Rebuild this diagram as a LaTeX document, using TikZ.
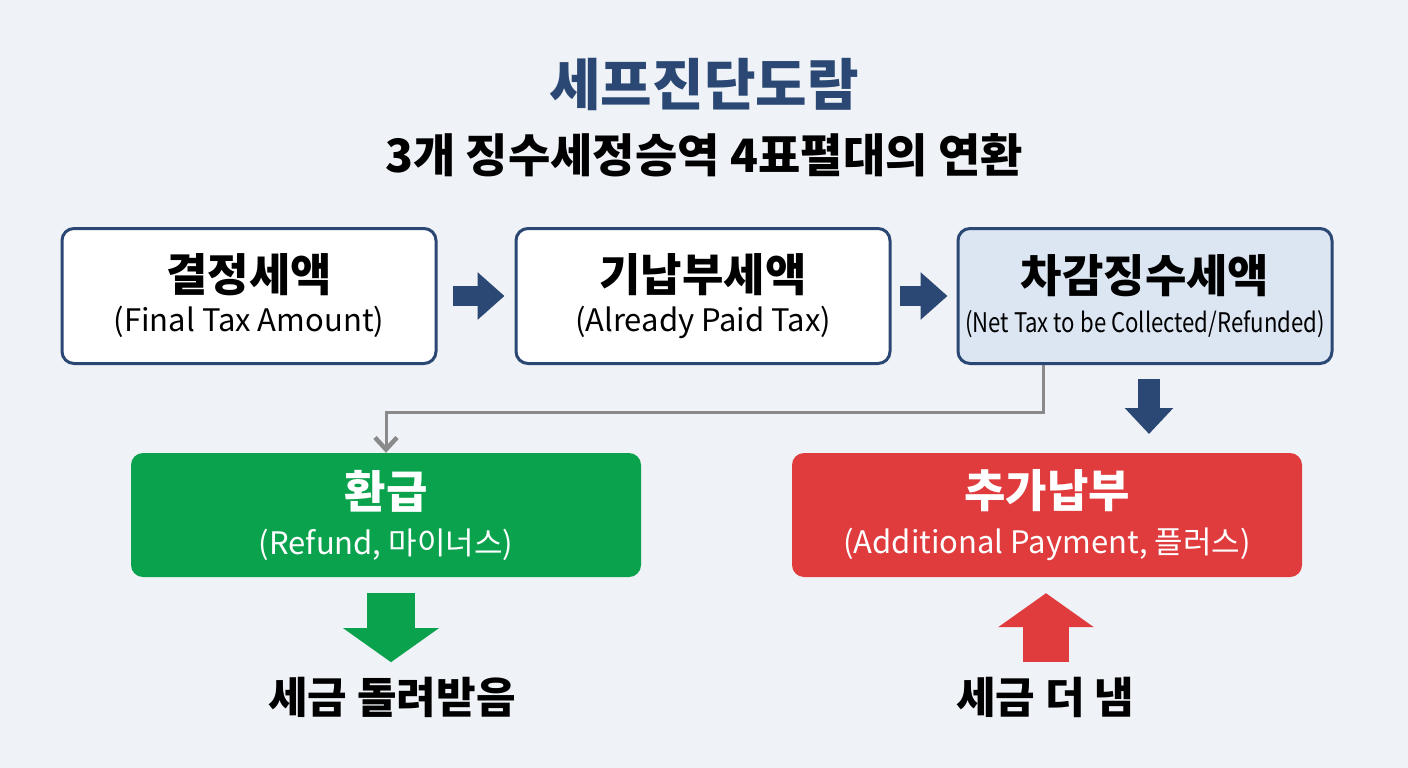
\documentclass[tikz,border=0pt]{standalone}
\usepackage{fontspec}
\setmainfont{Noto Sans CJK KR}
\usepackage{xcolor}
\usepackage{tikz}
\usetikzlibrary{arrows.meta,positioning,calc}
\definecolor{tblue}{HTML}{2B4874}
\definecolor{tpale}{HTML}{DCE5F2}
\definecolor{tback}{HTML}{EFF2F6}
\definecolor{tgreen}{HTML}{0BA24D}
\definecolor{tred}{HTML}{E03B3D}
\definecolor{tgrey}{HTML}{8A8A8A}
\newcommand{\headfont}{\fontsize{45}{48}\selectfont\bfseries}

\begin{document}
\begin{tikzpicture}[x=1pt,y=-1pt,
  every node/.style={font=\fontsize{31}{38}\selectfont,align=center},
  taxbox/.style={draw=tblue,line width=3pt,fill=white,rounded corners=12pt,
    minimum width=374pt,minimum height=135pt,inner sep=0pt},
  resbox/.style={rounded corners=12pt,minimum width=510pt,minimum height=124pt,
    inner sep=0pt,text=white},
  blockarrow/.style={line width=20pt,-{Triangle[length=27pt,width=46pt]}},
  fatarrow/.style={line width=48pt,-{Triangle[length=34pt,width=94pt]}}]
  \fill[tback] (0,0) rectangle (1408,768);
  % title lines
  \node[font=\fontsize{56}{62}\selectfont\bfseries,text=tblue] (title) at (704,85) {세프진단도람};
  \node[font=\fontsize{46}{52}\selectfont\bfseries] (subtitle) at (704,155) {3개 징수세정승역 4표펼대의 연환};
  % upper row
  \node[taxbox] (final) at (249,296) {{\headfont 결정세액}\\[2pt](Final Tax Amount)};
  \node[taxbox] (paid) at (703,296) {{\headfont 기납부세액}\\[2pt](Already Paid Tax)};
  \node[taxbox,fill=tpale] (net) at (1145,296) {{\headfont 차감징수세액}\\[2pt]\scalebox{0.82}[1]{\fontsize{27}{38}\selectfont(Net Tax to be Collected/Refunded)}};
  \draw[blockarrow,tblue] ($(final.east)+(15,0)$) -- ($(paid.west)+(-10,0)$);
  \draw[blockarrow,tblue] ($(paid.east)+(8,0)$) -- ($(net.west)+(-9,0)$);
  % lower row
  \node[resbox,fill=tgreen] (refund) at (386,515) {{\headfont 환급}\\[8pt](Refund, 마이너스)};
  \node[resbox,fill=tred] (extra) at (1047,515) {{\headfont 추가납부}\\[8pt](Additional Payment, 플러스)};
  \draw[tgrey,line width=3pt,-{Straight Barb[length=12pt,width=22pt,line width=4.5pt]}]
    ($(net.south west)+(87,0)$) |- ($(refund.north)+(0,-40)$) -- (refund.north);
  \draw[blockarrow,tblue,line width=22pt,-{Triangle[length=26pt,width=47pt]}]
    ($(net.south)+(4,14)$) -- ($(net.south)+(4,69)$);
  % outcomes
  \node[font=\fontsize{43}{46}\selectfont\bfseries] (back) at (392,697) {세금 돌려받음};
  \node[font=\fontsize{43}{46}\selectfont\bfseries] (more) at (1045,697) {세금 더 냄};
  \draw[fatarrow,tgreen] ($(refund.south)+(5,16)$) -- ($(refund.south)+(5,85)$);
  \draw[fatarrow,tred,line width=46pt] ($(extra.south)+(-1,85)$) -- ($(extra.south)+(-1,16)$);
\end{tikzpicture}
\end{document}
